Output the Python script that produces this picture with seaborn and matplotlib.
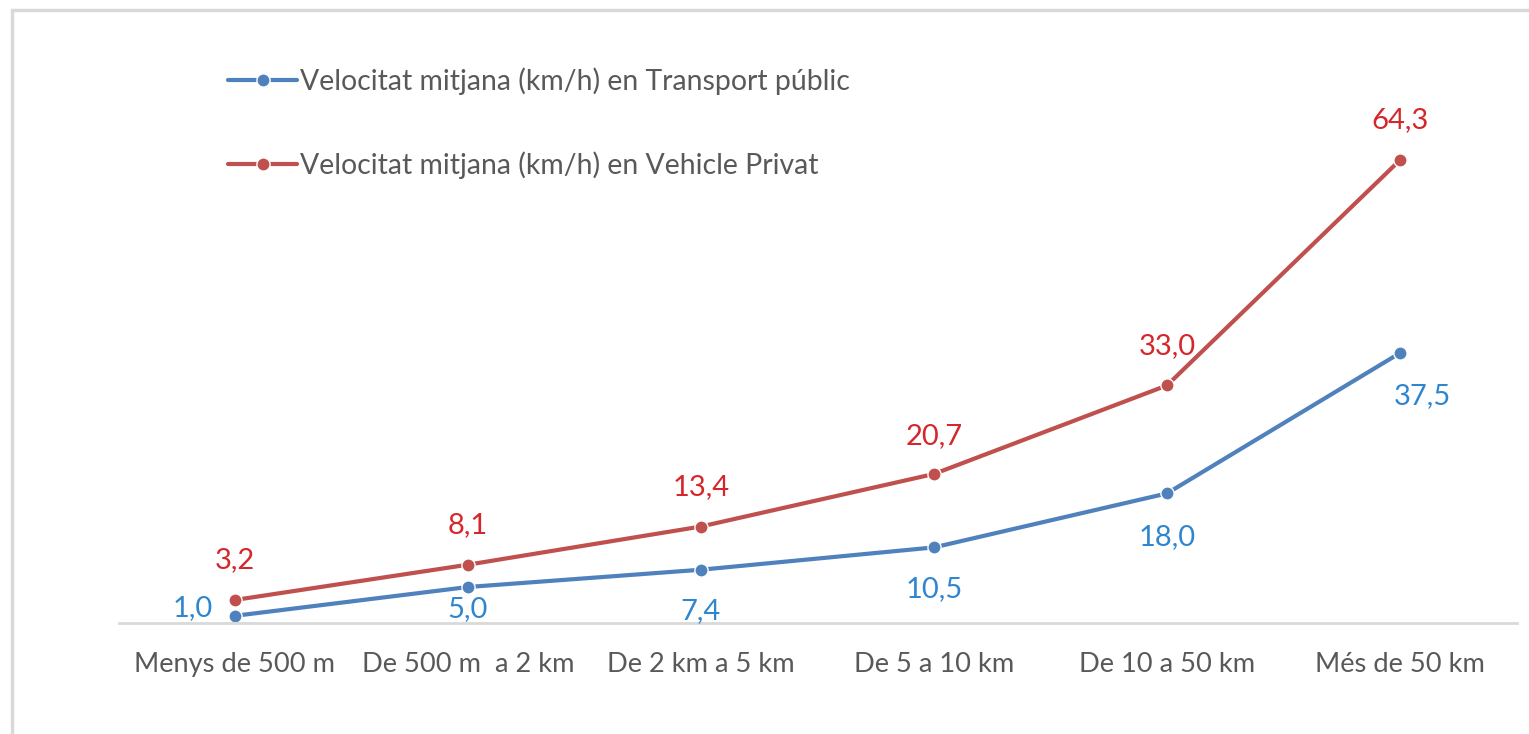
import matplotlib
matplotlib.use('Agg')
import matplotlib.pyplot as plt
import matplotlib.patches as mpatches
import seaborn as sns
import pandas as pd

# Data
categories = ['Menys de 500 m', 'De 500 m  a 2 km', 'De 2 km a 5 km',
              'De 5 a 10 km', 'De 10 a 50 km', 'Més de 50 km']
transport_public = [1.0, 5.0, 7.4, 10.5, 18.0, 37.5]
vehicle_privat = [3.2, 8.1, 13.4, 20.7, 33.0, 64.3]
series_names = ['Velocitat mitjana (km/h) en Transport públic',
                'Velocitat mitjana (km/h) en Vehicle Privat']

# label offsets (pixels) for the data labels
blue_offsets = [(-42, 8), (0, -22), (0, -41), (0, -42), (0, -44), (22, -43)]
red_offsets = [(0, 40), (0, 40), (0, 39), (0, 38), (0, 39), (0, 40)]

line_colors = ['#4F81BD', '#C0504D']
label_colors = ['#2F86D0', '#D5272B']

sns.set_style('white')
plt.rcParams['font.family'] = ['Lato', 'DejaVu Sans']

df = pd.DataFrame({
    'pos': list(range(len(categories))) * 2,
    'value': transport_public + vehicle_privat,
    'serie': [series_names[0]] * len(categories) + [series_names[1]] * len(categories),
})

fig = plt.figure(figsize=(15.29, 7.34), dpi=100)
ax = fig.add_axes([118.5 / 1529, 111 / 734, 1398 / 1529, 504 / 734])

sns.lineplot(data=df, x='pos', y='value', hue='serie', palette=line_colors,
             marker='o', markersize=9.5, markeredgecolor='white', markeredgewidth=1,
             linewidth=3, ax=ax, legend=False)

ax.set_xlim(-0.5, len(categories) - 0.5)
ax.set_ylim(0, 70)
ax.set_xticks(range(len(categories)))
ax.set_xticklabels(categories, fontsize=19.6, color='#595959')
ax.tick_params(axis='x', length=0, pad=21)
ax.set_yticks([])
ax.set_xlabel('')
ax.set_ylabel('')
for s in ['top', 'right', 'left']:
    ax.spines[s].set_visible(False)
ax.spines['bottom'].set_color('#D9D9D9')
ax.spines['bottom'].set_linewidth(2)

def fmt(v):
    return f'{v:.1f}'.replace('.', ',')

for i, v in enumerate(transport_public):
    ax.annotate(fmt(v), (i, v), xytext=blue_offsets[i], textcoords='offset pixels',
                ha='center', va='center', fontsize=21, color=label_colors[0])
for i, v in enumerate(vehicle_privat):
    ax.annotate(fmt(v), (i, v), xytext=red_offsets[i], textcoords='offset pixels',
                ha='center', va='center', fontsize=21, color=label_colors[1])

# legend
handles = [plt.Line2D([], [], color=c, linewidth=3, marker='o', markersize=9.5,
                      markeredgecolor='white', markeredgewidth=1) for c in line_colors]
fig.legend(handles, series_names, loc='upper left', bbox_to_anchor=(228 / 1529, 1 - 67 / 734),
           frameon=False, fontsize=20.4, labelcolor='#595959', handlelength=2.45,
           handletextpad=0.1, labelspacing=2.0, borderpad=0, borderaxespad=0)

# outer chart border
fig.patches.append(mpatches.Rectangle((12 / 1529, -0.1), 1.2, 1.1 - 10 / 734,
                                      transform=fig.transFigure, fill=False,
                                      edgecolor='#D9D9D9', linewidth=2.5))

fig.savefig('out.png', dpi=100)
